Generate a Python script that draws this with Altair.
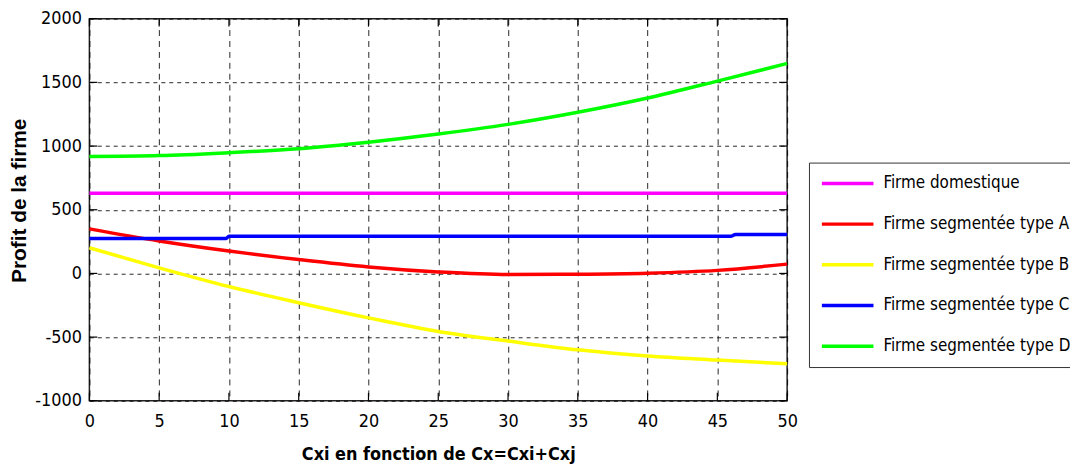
import altair as alt
import pandas as pd

# Shared x positions (Cxi)
x_vals = [0, 5, 10, 15, 20, 25, 30, 35, 40, 45, 50]

dom_vals = [630, 630, 630, 630, 630, 630, 630, 630, 630, 630, 630]
a_vals = [350, 255, 176, 109, 51, 12, -8, -6, 2, 24, 73]
b_vals = [201, 44, -103, -230, -349, -456, -531, -600, -648, -680, -710]
d_vals = [918, 925, 948, 979, 1030, 1094, 1170, 1265, 1377, 1510, 1648]

c_x = [0, 5, 9.8, 10, 20, 30, 40, 46, 46.3, 50]
c_vals = [274, 274, 275, 291, 291, 291, 292, 292, 306, 306]

names = ["Firme domestique", "Firme segmentée type A", "Firme segmentée type B",
         "Firme segmentée type C", "Firme segmentée type D"]
colors = ["#ff00ff", "#ff0000", "#ffff00", "#0000ff", "#00ff00"]

x_ticks = [0, 5, 10, 15, 20, 25, 30, 35, 40, 45, 50]
y_ticks = [-1000, -500, 0, 500, 1000, 1500, 2000]

rows = []
for n, vals in zip([names[0], names[1], names[2], names[4]], [dom_vals, a_vals, b_vals, d_vals]):
    for xv, yv in zip(x_vals, vals):
        rows.append({"x": xv, "v": yv, "s": n})
for xv, yv in zip(c_x, c_vals):
    rows.append({"x": xv, "v": yv, "s": names[3]})
df = pd.DataFrame(rows)

W, H = 703, 385
NARROW = "Liberation Sans Narrow, DejaVu Sans Condensed, Arial Narrow, sans-serif"

xscale = alt.Scale(domain=[0, 50], nice=False, zero=False)
yscale = alt.Scale(domain=[-1000, 2000], nice=False, zero=False)

lines = alt.Chart(df).mark_line(strokeWidth=3.5, interpolate="monotone").encode(
    x=alt.X("x:Q", scale=xscale,
            axis=alt.Axis(values=x_ticks, title="Cxi en fonction de Cx=Cxi+Cxj",
                          labelExpr="'' + datum.value", labelFlush=False,
                          gridDash=[6, 5], titleFont=NARROW, titleFontWeight="bold",
                          titleFontSize=18, titlePadding=15, labelPadding=12)),
    y=alt.Y("v:Q", scale=yscale,
            axis=alt.Axis(values=y_ticks, title="Profit de la firme", gridDash=[4, 4],
                          labelExpr="'' + datum.value", labelFlush=False,
                          titleFont="Liberation Sans", titleFontWeight="bold",
                          titleFontSize=21, titleAngle=270, titleX=-70, titleY=183,
                          titleAlign="center", titleBaseline="middle", labelPadding=8)),
    color=alt.Color("s:N", scale=alt.Scale(domain=names, range=colors),
                    legend=alt.Legend(orient="none", legendX=725, legendY=145, title=None,
                                      symbolType="stroke", symbolSize=2704, symbolStrokeWidth=3.5,
                                      strokeColor="#333333", fillColor="white", padding=11,
                                      labelFont=NARROW, labelFontSize=17, labelColor="black",
                                      labelOffset=8, rowPadding=21, clipHeight=20,
                                      labelLimit=400)),
)

tdx = pd.DataFrame({"x": x_ticks})
tdy = pd.DataFrame({"v": y_ticks})
tick_bottom = alt.Chart(tdx).mark_rule(color="black", strokeWidth=1.2).encode(
    x=alt.X("x:Q", scale=xscale), y=alt.value(H), y2=alt.value(H - 8))
tick_top = alt.Chart(tdx).mark_rule(color="black", strokeWidth=1.2).encode(
    x=alt.X("x:Q", scale=xscale), y=alt.value(0), y2=alt.value(8))
tick_left = alt.Chart(tdy).mark_rule(color="black", strokeWidth=1.2).encode(
    y=alt.Y("v:Q", scale=yscale), x=alt.value(0), x2=alt.value(8))
tick_right = alt.Chart(tdy).mark_rule(color="black", strokeWidth=1.2).encode(
    y=alt.Y("v:Q", scale=yscale), x=alt.value(W), x2=alt.value(W - 8))

chart = alt.layer(lines, tick_bottom, tick_top, tick_left, tick_right).properties(
    width=W, height=H,
    autosize=alt.AutoSizeParams(type="none"),
    padding={"left": 82, "top": 9, "right": 285, "bottom": 72},
    background="white",
).configure_view(
    stroke="#222222", strokeWidth=1.5
).configure_axis(
    domain=False, ticks=False, grid=True, gridColor="black", gridOpacity=0.85,
    gridWidth=1, labelFont=NARROW, labelFontSize=18, labelColor="black",
    titleColor="black"
)

chart.save("out.html", embed_options={"renderer": "svg", "actions": False})
